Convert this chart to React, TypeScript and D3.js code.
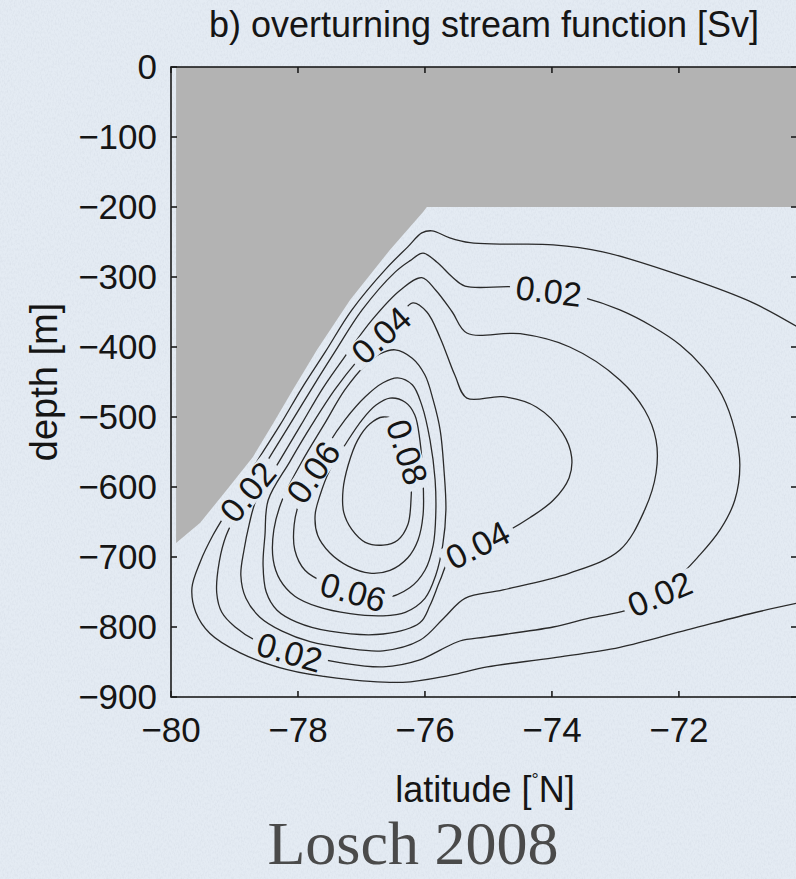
import * as d3 from "d3";

// axis ticks
const latTicks = [-80, -78, -76, -74, -72];
const depthTicks = [0, -100, -200, -300, -400, -500, -600, -700, -800, -900];

// ice shelf outline [lat, depth]
const iceShelf: [number, number][] = [
  [-79.92, 0], [-70.14, 0], [-70.14, -200], [-75.97, -200], [-76.03, -207],
  [-76.55, -261], [-77.18, -333], [-77.70, -404], [-78.08, -461], [-78.39, -509],
  [-78.71, -557], [-79.12, -604], [-79.54, -651], [-79.92, -680],
];

// contour lines [lat, depth]
const c001: [number, number][] = [
  [-70.14, -371], [-70.83, -337], [-71.87, -301], [-73.20, -264], [-73.98, -254],
  [-74.82, -253], [-75.29, -251], [-75.61, -244], [-75.89, -234], [-76.05, -237],
  [-76.27, -257], [-76.60, -287], [-77.15, -347], [-77.57, -407], [-77.94, -459],
  [-78.28, -511], [-78.65, -564], [-79.01, -619], [-79.34, -669], [-79.54, -707],
  [-79.67, -744], [-79.61, -779], [-79.39, -809], [-78.91, -837], [-78.17, -861],
  [-77.39, -873], [-76.35, -879], [-75.61, -869], [-75.02, -857], [-73.98, -844],
  [-72.93, -829], [-71.87, -804], [-70.83, -780], [-70.14, -766],
];
const c002: [number, number][] = [
  [-76.03, -266], [-75.81, -279], [-75.57, -300], [-75.37, -313], [-74.61, -314],
  [-74.05, -320], [-73.51, -329], [-72.93, -347], [-72.41, -371], [-71.98, -397],
  [-71.62, -429], [-71.32, -469], [-71.12, -519], [-71.04, -569], [-71.12, -619],
  [-71.35, -661], [-71.67, -697], [-72.30, -753], [-72.82, -776], [-73.40, -787],
  [-73.98, -800], [-75.02, -814], [-75.45, -820], [-75.76, -833], [-76.08, -847],
  [-76.66, -857], [-77.34, -851], [-78.13, -836], [-78.63, -821], [-78.99, -800],
  [-79.20, -779], [-79.28, -751], [-79.24, -707], [-79.13, -669], [-78.85, -619],
  [-78.49, -564], [-78.13, -511], [-77.78, -459], [-77.42, -407], [-76.99, -347],
  [-76.47, -293], [-76.24, -277],
];
const c003: [number, number][] = [
  [-76.05, -301], [-75.83, -319], [-75.57, -350], [-75.34, -380], [-74.50, -381],
  [-73.72, -400], [-72.93, -447], [-72.54, -490], [-72.36, -533], [-72.36, -580],
  [-72.54, -633], [-72.93, -690], [-73.72, -723], [-74.77, -747], [-75.37, -759],
  [-75.69, -786], [-76.08, -819], [-76.66, -834], [-77.26, -830], [-77.81, -821],
  [-78.25, -806], [-78.60, -786], [-78.82, -759], [-78.90, -726], [-78.85, -690],
  [-78.77, -654], [-78.66, -619], [-78.30, -564], [-77.95, -511], [-77.61, -459],
  [-77.24, -411], [-76.83, -361], [-76.39, -319],
];
const c004: [number, number][] = [
  [-76.19, -337], [-75.97, -350], [-75.76, -387], [-75.53, -440], [-75.34, -473],
  [-74.77, -471], [-74.24, -486], [-73.83, -523], [-73.69, -557], [-73.73, -587],
  [-73.98, -619], [-74.35, -644], [-74.66, -661], [-75.17, -683], [-75.61, -704],
  [-75.76, -733], [-75.92, -769], [-76.08, -794], [-76.66, -810], [-77.50, -806],
  [-78.02, -793], [-78.33, -776], [-78.50, -750], [-78.55, -711], [-78.52, -669],
  [-78.47, -619], [-78.13, -564], [-77.78, -511], [-77.42, -461], [-77.06, -419],
  [-76.69, -383], [-76.39, -354],
];
const c005: [number, number][] = [
  [-76.47, -404], [-76.20, -416], [-76.00, -440], [-75.87, -476], [-75.76, -519],
  [-75.70, -576], [-75.67, -633], [-75.72, -683], [-75.83, -726], [-76.00, -759],
  [-76.31, -779], [-76.66, -784], [-77.18, -781], [-77.69, -771], [-78.05, -756],
  [-78.28, -733], [-78.39, -704], [-78.38, -661], [-78.25, -619], [-77.94, -564],
  [-77.59, -511], [-77.26, -461], [-76.94, -426], [-76.71, -410],
];
const c006: [number, number][] = [
  [-76.43, -444], [-76.20, -454], [-76.05, -483], [-75.92, -533], [-75.84, -590],
  [-75.83, -640], [-75.87, -683], [-76.00, -719], [-76.24, -744], [-76.66, -759],
  [-77.13, -750], [-77.57, -737], [-77.89, -719], [-78.05, -690], [-78.06, -654],
  [-77.97, -619], [-77.76, -579], [-77.53, -540], [-77.26, -504], [-76.94, -471],
  [-76.66, -451],
];
const c007: [number, number][] = [
  [-76.55, -473], [-76.31, -479], [-76.16, -497], [-76.08, -533], [-76.03, -590],
  [-76.03, -640], [-76.11, -676], [-76.27, -701], [-76.55, -719], [-76.87, -723],
  [-77.21, -713], [-77.50, -694], [-77.69, -669], [-77.73, -640], [-77.65, -611],
  [-77.50, -576], [-77.26, -540], [-76.99, -504], [-76.77, -483],
];
const c008: [number, number][] = [
  [-76.66, -500], [-76.43, -507], [-76.28, -533], [-76.22, -576], [-76.22, -619],
  [-76.27, -654], [-76.43, -676], [-76.66, -683], [-76.94, -679], [-77.15, -661],
  [-77.28, -636], [-77.29, -604], [-77.21, -569], [-77.06, -533], [-76.87, -510],
];

const contours = [
  { level: 0.01, closed: false, pts: c001 },
  { level: 0.02, closed: true, pts: c002 },
  { level: 0.03, closed: true, pts: c003 },
  { level: 0.04, closed: true, pts: c004 },
  { level: 0.05, closed: true, pts: c005 },
  { level: 0.06, closed: true, pts: c006 },
  { level: 0.07, closed: true, pts: c007 },
  { level: 0.08, closed: true, pts: c008 },
];

// inline contour labels: text, lat, depth, rotation
const labelText = ["0.02", "0.02", "0.02", "0.02", "0.04", "0.04", "0.06", "0.06", "0.08"];
const labelLat = [-74.05, -72.30, -78.13, -78.79, -76.69, -75.17, -77.76, -77.13, -76.28];
const labelDepth = [-320, -753, -836, -607, -383, -683, -579, -750, -550];
const labelAngle = [7, -23, 16, -50, -42, -27, -55, 16, 72];

const W = 796;
const H = 879;
const left = 171, right = 797, top = 67, bottom = 697;

export default function App() {
  const x = d3.scaleLinear().domain([-80, -70.14]).range([left, right]);
  const y = d3.scaleLinear().domain([-900, 0]).range([bottom, top]);

  const open = d3.line<[number, number]>()
    .x(d => x(d[0])).y(d => y(d[1]))
    .curve(d3.curveCatmullRom.alpha(0.5));
  const closed = d3.line<[number, number]>()
    .x(d => x(d[0])).y(d => y(d[1]))
    .curve(d3.curveCatmullRomClosed.alpha(0.5));
  const poly = d3.line<[number, number]>()
    .x(d => x(d[0])).y(d => y(d[1]))
    .curve(d3.curveLinearClosed);

  const font = "'Liberation Sans', Arial, Helvetica, sans-serif";
  const axisColor = "#1c1c1c";

  return (
    <svg width={W} height={H} style={{ position: "absolute", left: 0, top: 0 }}
      xmlns="http://www.w3.org/2000/svg">
      <defs>
        <filter id="grain" x="0" y="0" width="100%" height="100%">
          <feTurbulence type="fractalNoise" baseFrequency="0.7 0.35" numOctaves="3" seed="7" />
          <feColorMatrix type="matrix"
            values="0 0 0 0 0.55  0 0 0 0 0.6  0 0 0 0 0.68  0.55 0 0 0 -0.22" />
        </filter>
        <clipPath id="plotClip">
          <rect x={left} y={top} width={right - left} height={bottom - top} />
        </clipPath>
        <mask id="labelMask" maskUnits="userSpaceOnUse" x="0" y="0" width={W} height={H}>
          <rect x="0" y="0" width={W} height={H} fill="white" />
          {labelText.map((t, i) => (
            <rect key={i} x={-t.length * 9 - 3} y={-13} width={t.length * 18 + 6} height={26}
              fill="black"
              transform={`translate(${x(labelLat[i])},${y(labelDepth[i])}) rotate(${labelAngle[i]})`} />
          ))}
        </mask>
      </defs>

      <rect x="0" y="0" width={W} height={H} fill="#e4ebf3" />
      <rect x="0" y="0" width={W} height={H} filter="url(#grain)" />

      <g clipPath="url(#plotClip)">
        <path d={poly(iceShelf) ?? ""} fill="#b3b3b3" />
        <g mask="url(#labelMask)" fill="none" stroke="#2a2a2a" strokeWidth={1.3}>
          {contours.map(c => (
            <path key={c.level} d={(c.closed ? closed(c.pts) : open(c.pts)) ?? ""} />
          ))}
        </g>
      </g>

      <g fontFamily={font} fontSize={34} fill="#151515" textAnchor="middle">
        {labelText.map((t, i) => (
          <text key={i} dominantBaseline="central"
            transform={`translate(${x(labelLat[i])},${y(labelDepth[i])}) rotate(${labelAngle[i]})`}>
            {t}
          </text>
        ))}
      </g>

      {/* axes box */}
      <g stroke={axisColor} strokeWidth={1.6} fill="none">
        <rect x={left} y={top} width={right - left} height={bottom - top} />
        {latTicks.map(t => (
          <g key={t}>
            <line x1={x(t)} x2={x(t)} y1={bottom} y2={bottom - 6} />
            <line x1={x(t)} x2={x(t)} y1={top} y2={top + 6} />
          </g>
        ))}
        {depthTicks.map(t => (
          <g key={t}>
            <line x1={left} x2={left + 6} y1={y(t)} y2={y(t)} />
            <line x1={right} x2={right - 6} y1={y(t)} y2={y(t)} />
          </g>
        ))}
      </g>

      <g fontFamily={font} fontSize={35} fill="#151515">
        {latTicks.map(t => (
          <text key={t} x={x(t)} y={742} textAnchor="middle">
            {t < 0 ? `\u2212${Math.abs(t)}` : t}
          </text>
        ))}
        {depthTicks.map(t => (
          <text key={t} x={157} y={y(t)} dy="0.35em" textAnchor="end">
            {t < 0 ? `\u2212${Math.abs(t)}` : t}
          </text>
        ))}
      </g>

      <text x={(left + right) / 2} y={37} textAnchor="middle" fontFamily={font}
        fontSize={36} fill="#151515">b) overturning stream function [Sv]</text>

      <text x={485} y={802} textAnchor="middle" fontFamily={font} fontSize={36} fill="#151515">
        latitude [<tspan dy={-16} fontSize={18}>°</tspan><tspan dy={16}>N]</tspan>
      </text>

      <text transform={`translate(57,${(top + bottom) / 2}) rotate(-90)`} textAnchor="middle"
        fontFamily={font} fontSize={38} fill="#151515">depth [m]</text>

      <text x={413} y={864} textAnchor="middle" fontFamily="'Liberation Serif', 'Times New Roman', serif"
        fontSize={62} fill="#4a4a4a">Losch 2008</text>
    </svg>
  );
}
